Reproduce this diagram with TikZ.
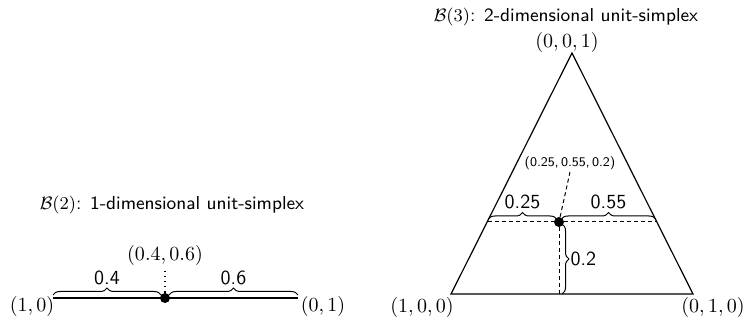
\documentclass[tikz,border=0pt]{standalone}
\usetikzlibrary{decorations.pathreplacing}
\begin{document}
\begin{tikzpicture}[x=0.5pt,y=-0.5pt,
  lbl/.style={font=\sffamily, inner sep=1pt},
  ttl/.style={font=\fontsize{9.4}{11}\selectfont\sffamily, inner sep=1pt},
  mlbl/.style={inner sep=1pt},
  edge/.style={line width=0.6pt},
  bracedec/.style={decorate, decoration={brace, amplitude=3.5pt}, line width=0.5pt},
  guide/.style={dashed, line width=0.5pt, dash pattern=on 2pt off 1.5pt},
  dot/.style={circle, fill=black, inner sep=0pt, minimum size=5pt}]
\useasboundingbox (0,0) rectangle (744,320);
% ---------- left: 1-dimensional simplex
\node[ttl] (t2) at (172,205) {$\mathcal{B}(2)$: 1-dimensional unit-simplex};
\coordinate (a) at (53,298);
\coordinate (b) at (298,298);
\node[dot] (p) at (165,298) {};
\draw[edge] (a) -- (b);
\node[mlbl] (la) at (32,306) {$(1,0)$};
\node[mlbl] (lb) at (323,306) {$(0,1)$};
\coordinate (b1s) at (53,295);
\coordinate (b1e) at (161,295);
\coordinate (b2s) at (169,295);
\coordinate (b2e) at (298,295);
\draw[bracedec] (b1s) -- (b1e) node[midway, above=4pt, lbl] (v1) {0.4};
\draw[bracedec] (b2s) -- (b2e) node[midway, above=4pt, lbl] (v2) {0.6};
\node[mlbl] (pl) at (165,256) {$(0.4,0.6)$};
\draw[dotted, line width=0.6pt] (p) -- (pl.south);
% ---------- right: 2-dimensional simplex
\node[ttl] (t3) at (566,17) {$\mathcal{B}(3)$: 2-dimensional unit-simplex};
\coordinate (T) at (572,53);
\coordinate (L) at (451,294);
\coordinate (R) at (693,294);
\draw[edge] (T) -- (R) -- (L) -- cycle;
\node[mlbl] (lT) at (567,43) {$(0,0,1)$};
\node[mlbl] (lL) at (422,308) {$(1,0,0)$};
\node[mlbl] (lR) at (713,308) {$(0,1,0)$};
\coordinate (hl) at (487.5,222);
\coordinate (hr) at (656.5,222);
\node[dot] (q) at (559,222) {};
\coordinate (qb) at (559,294);
\draw[guide] (hl) -- (q) -- (hr);
\draw[guide] (q) -- (qb);
\coordinate (c1s) at (488,219.5);
\coordinate (c1e) at (557,219.5);
\coordinate (c2s) at (561,219.5);
\coordinate (c2e) at (656,219.5);
\draw[bracedec] (c1s) -- (c1e) node[midway, above=4pt, lbl] (w1) {0.25};
\draw[bracedec] (c2s) -- (c2e) node[midway, above=4pt, lbl] (w2) {0.55};
\coordinate (d1s) at (562,224);
\coordinate (d1e) at (562,294);
\draw[bracedec] (d1s) -- (d1e) node[midway, right=3pt, lbl] (w3) {0.2};
\node[lbl, font=\sffamily\fontsize{6.6}{8}\selectfont] (ql) at (570,163) {(0.25,\,0.55,\,0.2)};
\draw[guide] (q) -- (ql.south);
\end{tikzpicture}
\end{document}
